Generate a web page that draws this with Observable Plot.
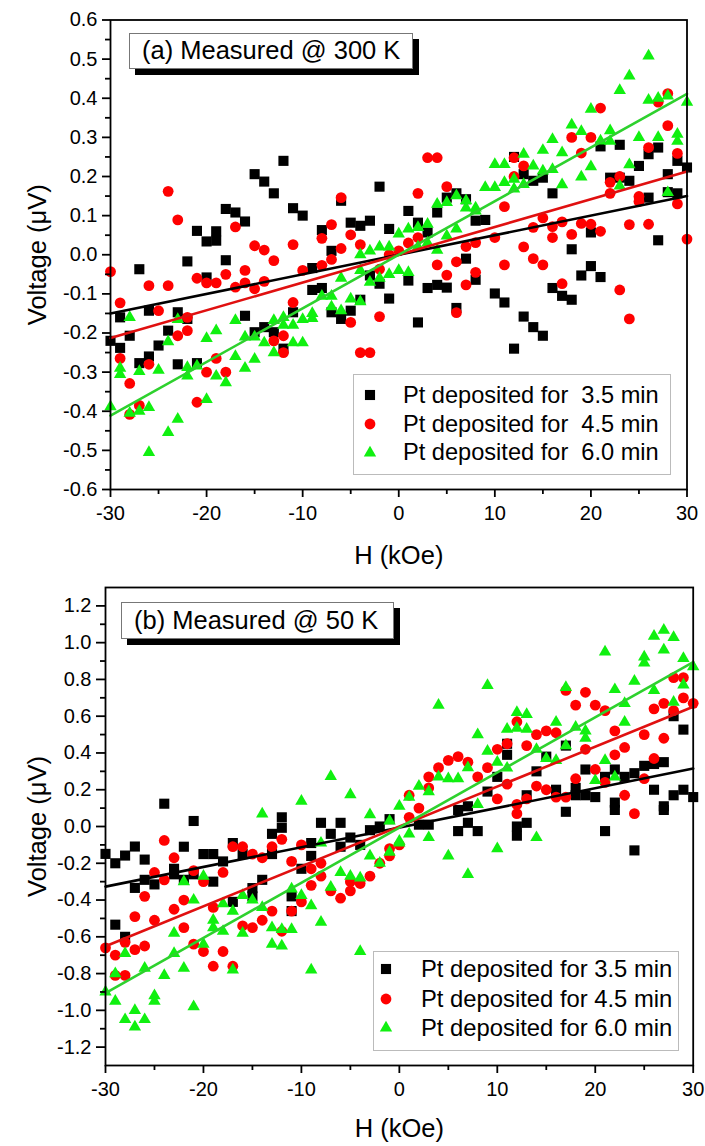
<!DOCTYPE html>
<html><head><meta charset="utf-8">
<script src="https://cdn.jsdelivr.net/npm/d3@7"></script>
<script src="https://cdn.jsdelivr.net/npm/@observablehq/plot@0.6"></script>
<style>
body{margin:0;background:#fff;}
#wrap{position:relative;width:705px;height:1146px;overflow:hidden;font-family:Arial,"Liberation Sans",sans-serif;color:#000;}
.panel{position:absolute;left:0;}
.tbox{position:absolute;box-sizing:border-box;background:#fff;border:1px solid #777;box-shadow:6px 6px 0 #000;font-size:25.5px;line-height:1;display:flex;align-items:center;padding-left:12px;white-space:pre;}
.legend{position:absolute;box-sizing:border-box;background:#fff;border:1px solid #bbb;}
.lrow{position:absolute;left:0;display:flex;align-items:center;white-space:pre;font-size:23px;line-height:1;}
</style></head><body><div id="wrap"></div>
<script>
// ---------- data ----------
const fieldDomain = [-30, 30];
const fieldTicks = [-30, -20, -10, 0, 10, 20, 30];
const fieldMinorTicks = [-25, -15, -5, 5, 15, 25];
const voltTicksA = [-0.6,-0.5,-0.4,-0.3,-0.2,-0.1,0,0.1,0.2,0.3,0.4,0.5,0.6];
const voltMinorA = [-0.55,-0.45,-0.35,-0.25,-0.15,-0.05,0.05,0.15,0.25,0.35,0.45,0.55];
const voltTicksB = [-1.2,-1.0,-0.8,-0.6,-0.4,-0.2,0,0.2,0.4,0.6,0.8,1.0,1.2];
const voltMinorB = [-1.1,-0.9,-0.7,-0.5,-0.3,-0.1,0.1,0.3,0.5,0.7,0.9,1.1];
const seriesLabelsA = ["Pt deposited for  3.5 min", "Pt deposited for  4.5 min", "Pt deposited for  6.0 min"];
const seriesLabelsB = ["Pt deposited for 3.5 min", "Pt deposited for 4.5 min", "Pt deposited for 6.0 min"];
const titleA = "(a) Measured @ 300 K";
const titleB = "(b) Measured @ 50 K";

// panel (a), 300 K : [H (kOe), V (µV)]
const a35 = [[-30,-0.22],[-29,-0.16],[-29,-0.238],[-28,-0.207],[-27,-0.037],[-27,-0.277],[-26,-0.143],[-26,-0.26],[-25,-0.232],[-24,-0.194],[-23,-0.147],[-23,-0.28],[-22,-0.017],[-22,-0.164],[-21,0.061],[-21,-0.277],[-20,0.034],[-20,-0.058],[-19,0.06],[-19,0.036],[-18,0.117],[-18,-0.014],[-17,0.108],[-16,0.085],[-16,-0.156],[-15,0.206],[-15,-0.198],[-14,0.187],[-14,-0.185],[-13,0.157],[-13,-0.198],[-12,0.24],[-12,-0.24],[-11,0.119],[-11,-0.147],[-10,0.1],[-9,-0.034],[-9,-0.09],[-8,0.063],[-8,-0.085],[-7,0.01],[-7,-0.147],[-6,0.138],[-6,-0.164],[-5,0.082],[-5,-0.143],[-4,0.074],[-4,-0.115],[-3,0.087],[-3,-0.053],[-2,0.174],[-2,-0.074],[-1,0.066],[-1,-0.112],[1,0.112],[1,-0.066],[2,0.082],[2,-0.173],[3,0.057],[3,-0.085],[4,0.108],[4,-0.077],[5,0.146],[5,-0.084],[6,0.157],[6,-0.136],[7,0.142],[7,-0.01],[8,0.087],[8,-0.064],[9,0.089],[10,-0.099],[11,-0.122],[12,0.25],[12,-0.24],[13,0.206],[13,-0.158],[14,0.189],[14,-0.185],[15,0.197],[15,-0.207],[16,0.157],[16,-0.085],[17,-0.105],[18,0.014],[18,-0.115],[19,-0.053],[20,0.057],[20,-0.029],[21,0.277],[21,-0.057],[22,0.197],[23,0.197],[23,0.281],[24,0.189],[25,0.227],[26,0.257],[26,0.146],[27,0.274],[27,0.037],[28,0.206],[28,0.16],[29,0.24],[29,0.157],[30,0.223]];
const a45 = [[-30,-0.043],[-29,-0.123],[-29,-0.265],[-28,-0.329],[-28,-0.408],[-27,-0.385],[-26,-0.079],[-26,-0.28],[-25,-0.143],[-24,0.162],[-24,-0.079],[-23,0.089],[-23,-0.207],[-22,-0.194],[-22,-0.16],[-21,-0.06],[-21,-0.377],[-20,-0.072],[-20,-0.3],[-19,-0.072],[-19,-0.265],[-18,-0.05],[-18,-0.3],[-17,0.071],[-17,-0.083],[-16,-0.04],[-16,-0.072],[-15,0.023],[-15,-0.087],[-14,0.012],[-14,-0.068],[-13,-0.015],[-13,-0.22],[-12,-0.207],[-12,-0.25],[-11,0.026],[-11,-0.122],[-10,-0.04],[-8,0.042],[-8,-0.027],[-7,0.077],[-7,-0.012],[-6,0.146],[-6,0.016],[-5,0.051],[-5,-0.173],[-4,0.026],[-4,-0.25],[-3,-0.25],[-2,-0.037],[-2,-0.158],[-1,0.0],[0,0.01],[1,0.03],[2,0.157],[2,0.044],[3,0.248],[4,0.248],[4,-0.026],[5,0.174],[5,-0.052],[6,-0.018],[6,-0.148],[7,0.021],[7,-0.077],[8,0.031],[8,-0.045],[10,0.044],[11,0.123],[11,-0.026],[12,0.248],[12,0.2],[13,0.227],[13,0.02],[14,0.07],[14,-0.01],[15,0.094],[15,-0.026],[16,0.072],[16,0.044],[17,0.084],[17,-0.074],[18,0.3],[18,0.052],[19,0.26],[19,0.08],[20,0.3],[20,0.078],[21,0.375],[21,0.06],[22,0.185],[22,0.157],[23,0.2],[23,-0.09],[24,0.077],[24,-0.164],[25,0.149],[25,0.136],[26,0.274],[26,0.078],[27,0.39],[28,0.412],[28,0.33],[29,0.259],[29,0.13],[30,0.04]];
const a60 = [[-30,-0.388],[-29,-0.29],[-29,-0.306],[-28,-0.16],[-28,-0.405],[-27,-0.4],[-27,-0.298],[-26,-0.505],[-26,-0.39],[-25,-0.295],[-24,-0.454],[-24,-0.222],[-23,-0.42],[-23,-0.165],[-22,-0.31],[-22,-0.288],[-21,-0.284],[-20,-0.37],[-20,-0.214],[-19,-0.194],[-19,-0.31],[-18,-0.327],[-17,-0.26],[-17,-0.168],[-16,-0.29],[-16,-0.21],[-15,-0.267],[-15,-0.21],[-14,-0.225],[-13,-0.168],[-13,-0.25],[-12,-0.16],[-12,-0.18],[-11,-0.18],[-11,-0.225],[-10,-0.225],[-10,-0.165],[-9,-0.15],[-9,-0.163],[-8,-0.106],[-7,-0.106],[-7,-0.133],[-6,-0.06],[-6,-0.143],[-5,-0.113],[-4,-0.12],[-4,-0.04],[-4,0.0],[-3,-0.07],[-3,0.01],[-2,-0.06],[-2,0.02],[-1,-0.05],[-1,0.02],[0,-0.04],[0,0.053],[1,0.066],[1,-0.045],[2,0.07],[2,0.02],[3,0.078],[3,0.03],[4,0.129],[4,0.012],[5,0.134],[5,0.048],[6,0.151],[6,0.066],[7,0.138],[7,0.12],[8,0.112],[8,0.12],[9,0.172],[10,0.231],[10,0.172],[11,0.231],[11,0.185],[12,0.193],[12,0.168],[13,0.257],[13,0.18],[14,0.227],[15,0.267],[15,0.214],[16,0.295],[16,0.218],[17,0.261],[17,0.179],[18,0.332],[19,0.315],[19,0.199],[20,0.372],[20,0.225],[21,0.291],[22,0.317],[22,0.29],[23,0.42],[23,0.176],[24,0.457],[24,0.23],[25,0.3],[26,0.508],[26,0.395],[27,0.4],[27,0.3],[28,0.406],[28,0.159],[29,0.308],[29,0.29],[30,0.39]];

// panel (b), 50 K
const b35 = [[-30,-0.149],[-29,-0.2],[-29,-0.534],[-28,-0.158],[-28,-0.6],[-27,-0.109],[-27,-0.334],[-26,-0.18],[-26,-0.29],[-25,-0.315],[-24,0.124],[-23,-0.23],[-23,-0.26],[-22,-0.11],[-22,-0.29],[-21,0.03],[-21,-0.26],[-20,-0.15],[-19,-0.15],[-19,-0.3],[-18,-0.19],[-17,-0.09],[-17,-0.41],[-16,-0.15],[-15,-0.38],[-15,-0.335],[-14,-0.29],[-13,-0.04],[-13,-0.15],[-12,0.05],[-12,-0.007],[-11,-0.38],[-11,-0.46],[-10,-0.23],[-9,-0.09],[-9,-0.16],[-8,0.02],[-7,-0.04],[-6,0.02],[-6,-0.11],[-5,-0.06],[-4,-0.1],[-3,-0.02],[-2,0.0],[-1,0.04],[2,0.01],[3,0.01],[6,0.09],[6,-0.025],[7,0.11],[7,0.02],[8,-0.025],[9,0.19],[10,0.27],[11,0.45],[11,0.39],[12,-0.05],[12,0.0],[13,0.17],[13,0.02],[14,0.3],[15,0.38],[16,0.2],[17,0.44],[17,0.08],[18,0.21],[18,0.17],[19,0.31],[19,0.17],[20,0.16],[21,0.27],[21,-0.025],[22,0.31],[22,0.13],[22,0.09],[23,0.27],[24,0.29],[24,-0.13],[25,0.33],[26,0.34],[26,0.2],[27,0.35],[27,0.11],[27,0.09],[28,0.6],[28,0.17],[29,0.527],[29,0.2],[30,0.16]];
const b45 = [[-30,-0.66],[-29,-0.7],[-29,-0.81],[-28,-0.81],[-28,-0.63],[-27,-0.49],[-27,-0.67],[-26,-0.38],[-26,-0.65],[-25,-0.25],[-25,-0.51],[-24,-0.076],[-24,-0.29],[-23,-0.17],[-23,-0.45],[-22,-0.4],[-22,-0.55],[-21,-0.24],[-21,-0.64],[-20,-0.3],[-20,-0.68],[-19,-0.44],[-19,-0.76],[-18,-0.25],[-18,-0.68],[-17,-0.11],[-17,-0.76],[-16,-0.11],[-16,-0.54],[-15,-0.15],[-15,-0.55],[-14,-0.17],[-14,-0.51],[-13,-0.11],[-13,-0.46],[-12,-0.07],[-12,-0.57],[-11,-0.19],[-11,-0.46],[-10,-0.1],[-10,-0.41],[-9,-0.23],[-9,-0.32],[-8,-0.2],[-8,-0.27],[-7,-0.35],[-6,-0.39],[-5,-0.35],[-5,-0.3],[-4,-0.31],[-3,-0.27],[-2,-0.2],[-1,-0.16],[-1,-0.12],[0,-0.1],[1,0.17],[1,0.05],[2,0.1],[3,0.27],[3,0.21],[4,0.32],[5,0.36],[6,0.38],[7,0.35],[8,0.27],[9,0.32],[10,0.42],[10,0.15],[11,0.45],[11,0.23],[12,0.57],[12,0.12],[12,0.07],[13,0.44],[13,0.15],[14,0.5],[14,0.22],[15,0.52],[15,0.2],[16,0.51],[16,0.16],[17,0.74],[17,0.16],[18,0.66],[18,0.26],[19,0.73],[19,0.42],[20,0.66],[20,0.31],[21,0.63],[21,0.24],[22,0.52],[22,0.39],[23,0.43],[23,0.17],[24,0.07],[25,0.5],[25,0.26],[26,0.64],[26,0.37],[27,0.67],[27,0.48],[28,0.81],[28,0.63],[29,0.81],[29,0.7],[30,0.67]];
const b60 = [[-30,-0.9],[-29,-0.95],[-29,-0.8],[-28,-0.69],[-28,-1.05],[-27,-1.0],[-27,-1.09],[-26,-1.05],[-26,-0.77],[-25,-0.92],[-25,-0.95],[-24,-0.81],[-23,-0.69],[-23,-0.58],[-22,-0.77],[-22,-0.3],[-21,-0.98],[-21,-0.4],[-20,-0.64],[-20,-0.27],[-19,-0.51],[-19,-0.55],[-18,-0.57],[-18,-0.42],[-17,-0.46],[-17,-0.78],[-16,-0.58],[-16,-0.375],[-15,-0.4],[-14,-0.44],[-14,0.069],[-13,-0.55],[-13,-0.64],[-12,-0.65],[-12,-0.56],[-11,-0.56],[-11,-0.34],[-10,-0.375],[-10,0.138],[-9,-0.78],[-9,-0.43],[-8,-0.52],[-8,-0.09],[-7,-0.33],[-7,0.272],[-6,-0.25],[-5,-0.27],[-5,0.173],[-4,-0.28],[-4,-0.68],[-3,-0.16],[-3,0.065],[-2,-0.2],[-1,-0.14],[-1,0.03],[0,-0.09],[0,0.11],[0,-0.08],[1,0.16],[1,-0.04],[2,0.22],[3,0.19],[3,-0.06],[4,0.27],[4,0.66],[5,0.26],[5,-0.16],[6,0.26],[7,0.32],[7,-0.26],[8,0.5],[8,0.12],[9,0.768],[9,0.41],[10,0.35],[10,-0.12],[11,0.53],[11,0.318],[12,0.62],[12,0.535],[13,0.61],[13,0.53],[14,0.42],[14,-0.06],[15,0.37],[16,0.567],[16,0.36],[17,0.756],[17,0.44],[18,0.54],[19,0.52],[19,0.48],[20,0.25],[21,0.95],[21,0.36],[22,0.745],[22,0.27],[23,0.67],[23,0.567],[24,0.79],[25,0.923],[25,0.89],[26,1.035],[26,0.74],[27,1.068],[27,0.96],[28,1.028],[28,0.676],[29,0.914],[29,0.77],[30,0.87]];

// linear fits (slope µV/kOe, intercept µV) for 3.5, 4.5, 6.0 min
const fitSlopeA = [0.0050, 0.0071, 0.0137];
const fitInterceptA = [0, 0, 0];
const fitSlopeB = [0.0107, 0.0217, 0.0300];
const fitInterceptB = [-0.006, 0, -0.006];

// ---------- styling ----------
const colors = {dot: ["#000000", "#ff0000", "#10f010"], line: ["#000000", "#e01010", "#2ed12e"]};
const symbols = ["square", "circle", "triangle"];
const radii = [5.7, 5.4, 4.6];
const font = 'Arial, "Liberation Sans", sans-serif';
const fmt1 = d => d.toFixed(1);
const fmtH = d => String(d);

function panel(p) {
  const xy = {x: d => d[0], y: d => d[1]};
  const series = [p.s35, p.s45, p.s60];
  const marks = [];
  series.forEach((s, k) => marks.push(Plot.dot(s, {...xy, symbol: symbols[k], r: radii[k], fill: colors.dot[k], stroke: "none"})));
  [0, 1, 2].forEach(k => {
    const rows = fieldDomain.map(h => ({h, v: p.slope[k] * h + p.icpt[k]}));
    marks.push(Plot.line(rows, {x: "h", y: "v", stroke: colors.line[k], strokeWidth: 2.6}));
  });
  marks.push(
    Plot.frame({stroke: "#000", strokeWidth: 1.8}),
    Plot.axisX({ticks: fieldTicks, tickSize: 8, tickPadding: p.xPad, tickFormat: fmtH, fontSize: 20, label: null, strokeWidth: 1.8}),
    Plot.axisX({ticks: fieldMinorTicks, tickSize: 5, tickFormat: () => "", label: null, strokeWidth: 1.8}),
    Plot.axisY({ticks: p.yMajor, tickSize: p.yTick, tickPadding: 5, tickFormat: fmt1, fontSize: 20, label: null, strokeWidth: 1.8}),
    Plot.axisY({ticks: p.yMinor, tickSize: 5, tickFormat: () => "", label: null, strokeWidth: 1.8}),
    Plot.text(["H (kOe)"], {frameAnchor: "bottom", dy: p.xTitleDy, lineAnchor: "middle", fontSize: 25.5}),
    Plot.text(["Voltage (\u03bcV)"], {frameAnchor: "left", dx: p.yTitleDx, rotate: -90, lineAnchor: "middle", textAnchor: "middle", fontSize: 25.5})
  );
  return Plot.plot({
    width: 705, height: p.height,
    marginTop: p.mt, marginBottom: p.mb, marginLeft: p.ml, marginRight: p.mr,
    x: {domain: fieldDomain},
    y: {domain: p.yDomain},
    style: {fontFamily: font, background: "transparent", overflow: "visible", color: "#000"},
    marks
  });
}

const wrap = document.getElementById("wrap");
function place(el, top) { const d = document.createElement("div"); d.className = "panel"; d.style.top = top + "px"; d.appendChild(el); wrap.appendChild(d); }

place(panel({s35: a35, s45: a45, s60: a60, slope: fitSlopeA, icpt: fitInterceptA,
  yDomain: [-0.6, 0.6], yMajor: voltTicksA, yMinor: voltMinorA, yTick: 8,
  height: 560, mt: 19.5, mb: 71, ml: 110, mr: 18.5, xPad: 8, xTitleDy: 66, yTitleDx: -73}), 0);
place(panel({s35: b35, s45: b45, s60: b60, slope: fitSlopeB, icpt: fitInterceptB,
  yDomain: [-1.3, 1.3], yMajor: voltTicksB, yMinor: voltMinorB, yTick: 9,
  height: 586, mt: 27, mb: 81, ml: 105, mr: 12.3, xPad: 8, xTitleDy: 63, yTitleDx: -68}), 560);

function titleBox(text, l, t, w, h) {
  const d = document.createElement("div");
  d.className = "tbox";
  Object.assign(d.style, {left: l + "px", top: t + "px", width: w + "px", height: h + "px"});
  d.textContent = text;
  wrap.appendChild(d);
}
titleBox(titleA, 129, 32.7, 284, 36.6);
titleBox(titleB, 121, 601.7, 273, 37.5);

function symbolSvg(k) {
  const size = Math.PI * radii[k] * radii[k];
  const path = d3.symbol(k === 0 ? d3.symbolSquare : k === 1 ? d3.symbolCircle : d3.symbolTriangle, size)();
  return `<svg width="24" height="24" viewBox="-12 -12 24 24" style="display:block"><path d="${path}" fill="${colors.dot[k]}"/></svg>`;
}
function legend(labels, l, t, w, h, symX, rowsY, textX, fs) {
  const box = document.createElement("div");
  box.className = "legend";
  Object.assign(box.style, {left: l + "px", top: t + "px", width: w + "px", height: h + "px"});
  labels.forEach((lab, k) => {
    const sym = document.createElement("div");
    sym.innerHTML = symbolSvg(k);
    Object.assign(sym.style, {position: "absolute", left: (symX - l - 12) + "px", top: (rowsY[k] - t - 12) + "px"});
    box.appendChild(sym);
    const tx = document.createElement("div");
    tx.className = "lrow";
    tx.textContent = lab;
    Object.assign(tx.style, {left: (textX - l) + "px", top: (rowsY[k] - t - 12) + "px", height: "24px", fontSize: fs + "px"});
    box.appendChild(tx);
  });
  wrap.appendChild(box);
}
legend(seriesLabelsA, 352.7, 374.3, 318, 100.7, 369, [394.3, 423.3, 451.7], 402, 23.6);
legend(seriesLabelsB, 372.7, 950.7, 306.3, 100, 385, [968, 997.7, 1027], 420, 23.8);
</script></body></html>
